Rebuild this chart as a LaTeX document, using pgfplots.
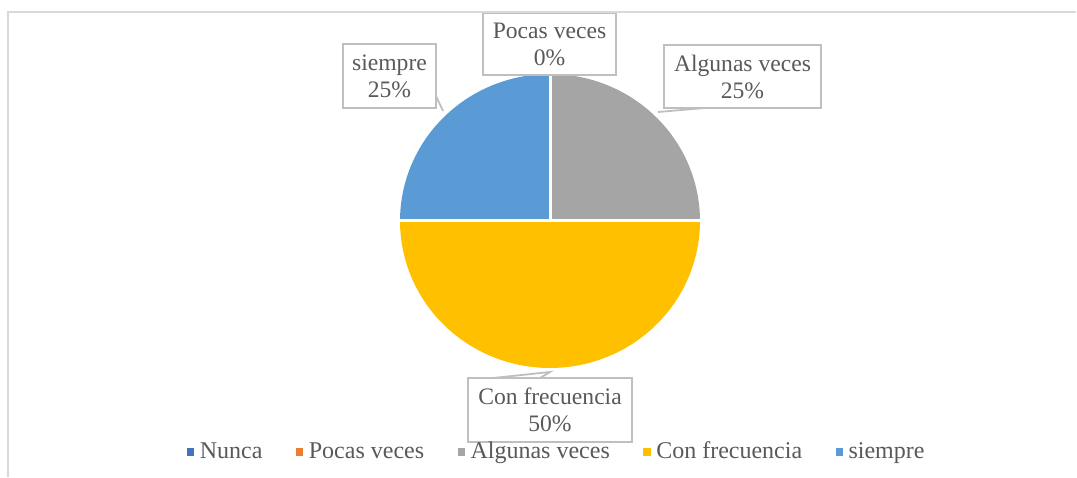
\documentclass[border=0pt]{standalone}
\usepackage{pgfplots}
\pgfplotsset{compat=1.18}
\usepackage{fontspec}
\setmainfont{Liberation Serif}
\definecolor{cblue}{HTML}{4472C4}
\definecolor{corange}{HTML}{ED7D31}
\definecolor{cgray}{HTML}{A5A5A5}
\definecolor{cyellow}{HTML}{FFC000}
\definecolor{clblue}{HTML}{5B9BD5}
\definecolor{tgray}{HTML}{595959}
\definecolor{bgray}{HTML}{BFBFBF}
\definecolor{fgray}{HTML}{D9D9D9}
% Data (percent): Nunca 0, Pocas veces 0, Algunas veces 25, Con frecuencia 50, siempre 25
% Slices start at 12 o'clock and run clockwise (1% = 3.6 degrees)
\def\pNunca{0}\def\pPocas{0}\def\pAlgunas{25}\def\pCon{50}\def\pSiempre{25}
\begin{document}
\begin{tikzpicture}
\begin{axis}[
  width=538.5pt, height=238.5pt, scale only axis,
  xmin=0, xmax=1077, ymin=0, ymax=477,
  hide axis, clip=false,
  legend columns=5,
  legend style={at={(axis cs:557,25)}, anchor=center, draw=none, fill=none,
    font=\fontsize{12}{14}\selectfont, text=tgray,
    nodes={inner sep=1.5pt},
    /tikz/every even column/.append style={column sep=15pt}},
  legend image code/.code={\fill[#1] (0.4pt,-1.6pt) rectangle (3.6pt,1.6pt);
    \path[draw=none, fill=none] (0pt,0pt) rectangle (5.2pt,0.1pt);},
]
% Legend entries
\addlegendimage{cblue}\addlegendentry{Nunca}
\addlegendimage{corange}\addlegendentry{Pocas veces}
\addlegendimage{cgray}\addlegendentry{Algunas veces}
\addlegendimage{cyellow}\addlegendentry{Con frecuencia}
\addlegendimage{clblue}\addlegendentry{siempre}
% Pie slices (center 550,256)
\pgfmathsetmacro{\aA}{90}
\pgfmathsetmacro{\aB}{\aA-3.6*(\pNunca+\pPocas)}
\pgfmathsetmacro{\aC}{\aB-3.6*\pAlgunas}
\pgfmathsetmacro{\aD}{\aC-3.6*\pCon}
\pgfmathsetmacro{\aE}{\aD-3.6*\pSiempre}
\addplot[fill=cgray, draw=none, domain=\aC:\aB, samples=60, variable=\t, forget plot]
  ({550+150*cos(t)},{256+147*sin(t)}) -- (axis cs:550,256);
\addplot[fill=cyellow, draw=none, domain=\aD:\aC, samples=100, variable=\t, forget plot]
  ({550+150*cos(t)},{256+147*sin(t)}) -- (axis cs:550,256);
\addplot[fill=clblue, draw=none, domain=\aE:\aD, samples=60, variable=\t, forget plot]
  ({550+150*cos(t)},{256+147*sin(t)}) -- (axis cs:550,256);
% white separators
\addplot[white, line width=1.5pt, forget plot] coordinates {(550,404) (550,256)};
\addplot[white, line width=1.5pt, forget plot] coordinates {(399,256) (701,256)};
% leader lines
\draw[bgray, line width=0.9pt] (axis cs:436,381) -- (axis cs:443,366);
\draw[bgray, line width=0.9pt] (axis cs:658,365) -- (axis cs:705,369);
\draw[bgray, line width=0.9pt] (axis cs:493,99) -- (axis cs:550,105) -- (axis cs:540,99);
% data labels
\tikzset{lab/.style={draw=bgray, line width=1pt, fill=white, align=center,
  inner sep=0pt, text=tgray, font=\fontsize{11.8}{13.5}\selectfont}}
\node[lab, minimum width=66.5pt, minimum height=31pt] at (axis cs:549.5,433) {Pocas veces\\0\%};
\node[lab, minimum width=46.5pt, minimum height=32pt] at (axis cs:389.5,401) {siempre\\25\%};
\node[lab, minimum width=78.5pt, minimum height=31.5pt] at (axis cs:742.5,400.5) {Algunas veces\\25\%};
\node[lab, minimum width=82pt, minimum height=32pt] at (axis cs:550,67) {Con frecuencia\\50\%};
% chart area border (top and left)
\draw[fgray, line width=1pt] (axis cs:8,0) -- (axis cs:8,465) -- (axis cs:1076,465);
\end{axis}
\pgfresetboundingbox
\path (current axis.south west) rectangle (current axis.north east);
\end{tikzpicture}
\end{document}
